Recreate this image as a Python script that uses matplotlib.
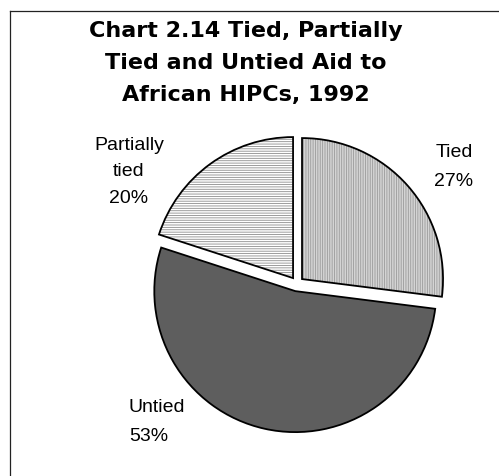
import matplotlib.pyplot as plt
from matplotlib.lines import Line2D

# Data
labels = ['Tied', 'Untied', 'Partially\ntied']
shares = [27, 53, 20]
face_colors = ['#d4d4d4', '#5e5e5e', '#ffffff']
hatch_colors = ['#9a9a9a', '#4a4a4a', '#8c8c8c']
hatches = ['|||||||', '', '-------']

plt.rcParams['font.family'] = ['Liberation Sans', 'DejaVu Sans']
plt.rcParams['hatch.linewidth'] = 0.6

W, H = 499, 477
fig = plt.figure(figsize=(W / 100, H / 100), dpi=100)
ax = fig.add_axes([0, 0, 1, 1])

center = (297, H - 284.5)
radius = 141
explode = [6.7, 7.8, 6.7]  # pie offsets are in data units (pixels here)

# fill layer with hatching (no outline)
wedges, _ = ax.pie(shares, explode=explode, startangle=90, counterclock=False,
                   center=center, radius=radius, frame=True,
                   wedgeprops=dict(linewidth=0))
for w, fc, hc, ht in zip(wedges, face_colors, hatch_colors, hatches):
    w.set_facecolor(fc)
    w.set_edgecolor(hc)
    w.set_hatch(ht)

# outline layer
ax.pie(shares, explode=explode, startangle=90, counterclock=False,
       center=center, radius=radius, frame=True,
       wedgeprops=dict(facecolor='none', edgecolor='black', linewidth=1.3))
ax.set_xlim(0, W)
ax.set_ylim(0, H)
ax.set_aspect('equal')
ax.axis('off')

# slice labels
pct = [f'{s}%' for s in shares]
ax.text(454, H - 167, f'{labels[0]}\n{pct[0]}', ha='center', va='center',
        fontsize=14, linespacing=1.85)
ax.text(129, H - 422, f'{labels[1]}\n{pct[1]}', ha='left', va='center',
        fontsize=14, linespacing=1.85)
ax.text(129, H - 172, f'{labels[2]}\n{pct[2]}', ha='center', va='center',
        fontsize=14, linespacing=1.75)

# title
ax.text(246, H - 63, 'Chart 2.14 Tied, Partially\nTied and Untied Aid to\nAfrican HIPCs, 1992',
        ha='center', va='center', fontsize=16, fontweight='bold', linespacing=1.72,
        family='DejaVu Sans')

# chart frame (top and left only visible)
fig.add_artist(Line2D([10 / W, 10 / W], [0, 1 - 12 / H], transform=fig.transFigure,
                      color='#222222', linewidth=0.9))
fig.add_artist(Line2D([10 / W, 1], [1 - 12 / H, 1 - 12 / H], transform=fig.transFigure,
                      color='#222222', linewidth=0.9))

fig.savefig('out.png', dpi=100)
